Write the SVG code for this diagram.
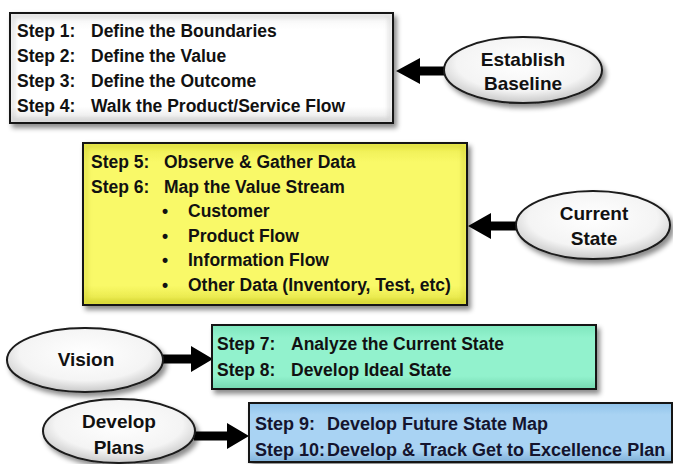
<svg xmlns="http://www.w3.org/2000/svg" width="673" height="464" viewBox="0 0 673 464">
<defs>
<filter id="sh" x="-10%" y="-20%" width="130%" height="150%">
<feDropShadow dx="3" dy="4" stdDeviation="2.5" flood-color="#000" flood-opacity="0.45"/>
</filter>
<filter id="bl" x="-5%" y="-10%" width="110%" height="120%"><feGaussianBlur stdDeviation="2"/></filter>
<radialGradient id="gEl" cx="50%" cy="40%" r="60%">
<stop offset="0" stop-color="#ffffff"/><stop offset="0.7" stop-color="#f4f4f4"/><stop offset="1" stop-color="#c8c8c8"/>
</radialGradient>
<linearGradient id="gWhite" x1="0" y1="0" x2="0" y2="1">
<stop offset="0" stop-color="#f4f4f4"/><stop offset="0.15" stop-color="#ffffff"/><stop offset="0.85" stop-color="#ffffff"/><stop offset="1" stop-color="#e4e4e4"/>
</linearGradient>
<linearGradient id="gYel" x1="0" y1="0" x2="0" y2="1">
<stop offset="0" stop-color="#eded50"/><stop offset="0.12" stop-color="#f9f968"/><stop offset="0.88" stop-color="#f9f968"/><stop offset="1" stop-color="#e2e240"/>
</linearGradient>
<linearGradient id="gTeal" x1="0" y1="0" x2="0" y2="1">
<stop offset="0" stop-color="#7fe6bd"/><stop offset="0.2" stop-color="#92f2cd"/><stop offset="0.8" stop-color="#92f2cd"/><stop offset="1" stop-color="#74d8b0"/>
</linearGradient>
<linearGradient id="gBlue" x1="0" y1="0" x2="0" y2="1">
<stop offset="0" stop-color="#8fc2ea"/><stop offset="0.2" stop-color="#a9d3f3"/><stop offset="0.8" stop-color="#a9d3f3"/><stop offset="1" stop-color="#7fb0d8"/>
</linearGradient>
</defs>
<style>
text{font-family:"Liberation Sans",Arial,sans-serif;font-weight:bold;fill:#111;}
.t{font-size:17.5px;}
.b{font-size:18px;fill:#14142e;}
.e{font-size:19px;text-anchor:middle;}
.box{stroke:#151515;stroke-width:2;}
.bev{fill:none;stroke-width:4;stroke-opacity:0.25;}
.ell{fill:url(#gEl);stroke:#1a1a1a;stroke-width:2;}
.arr{fill:#000;}
</style>
<rect width="673" height="464" fill="#ffffff"/>

<g id="connectors">
<polygon class="arr" points="396,71 420,58 420,66.5 446,66.5 446,75.5 420,75.5 420,84"/>
<polygon class="arr" points="468,226 491,213 491,221.5 517,221.5 517,230.5 491,230.5 491,239"/>
<polygon class="arr" points="163,354.5 191,354.5 191,346 213,359 191,372 191,363.5 163,363.5"/>
<polygon class="arr" points="194,431.5 227,431.5 227,423 249,436 227,449 227,440.5 194,440.5"/>
</g>

<g id="box-steps-1-4">
<rect class="box" x="10" y="13" width="383" height="110" fill="url(#gWhite)" filter="url(#sh)"/>
<rect class="bev" x="13" y="16" width="377" height="104" stroke="#888" filter="url(#bl)"/>
<rect x="10" y="13" width="383" height="110" fill="none" stroke="#151515" stroke-width="2"/>
<text class="t" x="17" y="37">Step 1:</text><text class="t" x="91" y="37">Define the Boundaries</text>
<text class="t" x="17" y="62">Step 2:</text><text class="t" x="91" y="62">Define the Value</text>
<text class="t" x="17" y="87">Step 3:</text><text class="t" x="91" y="87">Define the Outcome</text>
<text class="t" x="17" y="112">Step 4:</text><text class="t" x="91" y="112">Walk the Product/Service Flow</text>
</g>

<g id="node-establish-baseline">
<ellipse class="ell" cx="523" cy="70" rx="79" ry="33" filter="url(#sh)"/>
<text class="e" x="523" y="66">Establish</text>
<text class="e" x="523" y="90">Baseline</text>
</g>

<g id="box-steps-5-6">
<rect class="box" x="83" y="143" width="384" height="162" fill="url(#gYel)" filter="url(#sh)"/>
<rect class="bev" x="86" y="146" width="378" height="156" stroke="#a0a000" filter="url(#bl)"/>
<rect x="83" y="143" width="384" height="162" fill="none" stroke="#151515" stroke-width="2"/>
<text class="t" x="91" y="168">Step 5:</text><text class="t" x="164" y="168">Observe &amp; Gather Data</text>
<text class="t" x="91" y="192.5">Step 6:</text><text class="t" x="164" y="192.5">Map the Value Stream</text>
<text class="t" x="162" y="217">•</text><text class="t" x="188" y="217">Customer</text>
<text class="t" x="162" y="241.5">•</text><text class="t" x="188" y="241.5">Product Flow</text>
<text class="t" x="162" y="266">•</text><text class="t" x="188" y="266">Information Flow</text>
<text class="t" x="162" y="290.5">•</text><text class="t" x="188" y="290.5">Other Data (Inventory, Test, etc)</text>
</g>

<g id="node-current-state">
<ellipse class="ell" cx="593" cy="225" rx="77" ry="34" filter="url(#sh)"/>
<text class="e" x="594" y="220">Current</text>
<text class="e" x="594" y="245">State</text>
</g>

<g id="node-vision">
<ellipse class="ell" cx="85" cy="360" rx="78" ry="32" filter="url(#sh)"/>
<text class="e" x="86" y="366">Vision</text>
</g>

<g id="box-steps-7-8">
<rect class="box" x="212" y="325" width="384" height="64" fill="url(#gTeal)" filter="url(#sh)"/>
<rect x="212" y="325" width="384" height="64" fill="none" stroke="#151515" stroke-width="2"/>
<text class="t" x="217" y="350">Step 7:</text><text class="t" x="291" y="350">Analyze the Current State</text>
<text class="t" x="217" y="375.5">Step 8:</text><text class="t" x="291" y="375.5">Develop Ideal State</text>
</g>

<g id="node-develop-plans">
<ellipse class="ell" cx="119" cy="431" rx="76" ry="32" filter="url(#sh)"/>
<text class="e" x="119" y="428">Develop</text>
<text class="e" x="119" y="454">Plans</text>
</g>

<g id="box-steps-9-10">
<rect class="box" x="249" y="403" width="423" height="59" fill="url(#gBlue)" filter="url(#sh)"/>
<rect x="249" y="403" width="423" height="59" fill="none" stroke="#151515" stroke-width="2"/>
<text class="b" x="255" y="430">Step 9:</text><text class="b" x="327" y="430">Develop Future State Map</text>
<text class="b" x="255" y="455.5">Step 10:</text><text class="b" x="327" y="455.5">Develop &amp; Track Get to Excellence Plan</text>
</g>
</svg>
